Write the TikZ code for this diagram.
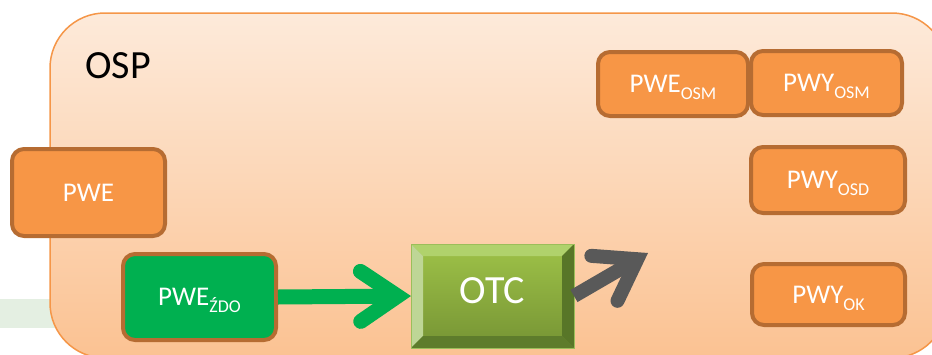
\documentclass[tikz,border=0pt]{standalone}
\usepackage{fontspec}
\setmainfont{Carlito}
\usetikzlibrary{arrows.meta,calc}

\definecolor{boxfill}{RGB}{247,150,70}
\definecolor{boxedge}{RGB}{182,108,50}
\definecolor{zdogreen}{RGB}{0,176,80}
\definecolor{ospedge}{RGB}{245,150,72}
\definecolor{osptop}{RGB}{253,234,218}
\definecolor{ospbottom}{RGB}{251,194,146}
\definecolor{bandgreen}{RGB}{228,239,226}
\definecolor{arrowgrey}{RGB}{89,89,89}
\definecolor{otcedge}{RGB}{155,190,90}
\definecolor{otctop}{RGB}{158,194,72}
\definecolor{otcbottom}{RGB}{118,148,52}
\definecolor{bevtop}{RGB}{176,210,108}
\definecolor{bevleft}{RGB}{190,214,150}
\definecolor{bevright}{RGB}{88,118,40}
\definecolor{bevbottom}{RGB}{94,124,44}

\newcommand{\lo}[1]{\smash{\raisebox{-7pt}{\fontsize{18}{18}\selectfont #1}}}

\tikzset{
    osp/.style={top color=osptop, bottom color=ospbottom, draw=ospedge,
        line width=1.5pt, rounded corners=55pt},
    box/.style={draw=boxedge, fill=boxfill, line width=4pt, rounded corners=12pt,
        text=white, font=\fontsize{27}{27}\selectfont, inner sep=0pt},
    greenarrow/.style={draw=zdogreen, line width=15pt,
        -{Straight Barb[length=37pt, width=50pt, line cap=round, line join=miter]}},
    greyarrow/.style={draw=arrowgrey, line width=14pt,
        -{Straight Barb[length=38pt, width=52pt, line cap=round, line join=miter]}},
}

\begin{document}
\begin{tikzpicture}[x=1pt, y=-1pt]
    \useasboundingbox (0,0) rectangle (932,354);
    \clip (0,0) rectangle (932,354);

    \fill[bandgreen] (0,299) rectangle (60,328);
    \draw[osp] (50,13) rectangle (947,358);
    \node[anchor=base west, inner sep=0pt, font=\fontsize{40}{40}\selectfont]
        (osplbl) at (85,78) {OSP};

    \node[box, minimum width=153pt, minimum height=87pt] (pwe) at (88.5,192.5) {PWE};
    \node[box, fill=zdogreen, minimum width=153pt, minimum height=86pt]
        (zdo) at (199.5,297) {PWE\lo{ŹDO}};
    \node[box, minimum width=150pt, minimum height=64pt] (pweosm) at (673,84) {PWE\lo{OSM}};
    \node[box, minimum width=151pt, minimum height=64pt] (pwyosm) at (826.5,83) {PWY\lo{OSM}};
    \node[box, minimum width=154pt, minimum height=66pt] (pwyosd) at (828,180) {PWY\lo{OSD}};
    \node[box, minimum width=153pt, minimum height=61pt] (pwyok) at (828.5,294.5) {PWY\lo{OK}};

    % bevelled OTC block
    \node[draw=otcedge, line width=1pt, top color=otctop, bottom color=otcbottom,
        minimum width=162pt, minimum height=103pt, inner sep=0pt, text depth=10pt,
        text=white, font=\fontsize{40}{40}\selectfont] (otc) at (492.5,296) {OTC};
    \coordinate (inw) at ($(otc.north west)+(12,12)$);
    \coordinate (ine) at ($(otc.north east)+(-12,12)$);
    \coordinate (ise) at ($(otc.south east)+(-12,-12)$);
    \coordinate (isw) at ($(otc.south west)+(12,-12)$);
    \fill[bevtop] (otc.north west) -- (otc.north east) -- (ine) -- (inw) -- cycle;
    \fill[bevleft] (otc.north west) -- (inw) -- (isw) -- (otc.south west) -- cycle;
    \fill[bevright] (otc.north east) -- (otc.south east) -- (ise) -- (ine) -- cycle;
    \fill[bevbottom] (otc.south west) -- (isw) -- (ise) -- (otc.south east) -- cycle;
    \draw[otcedge, line width=1pt] (otc.north west) rectangle (otc.south east);

    % arrows
    \coordinate (gtip) at (648,253);
    \draw[greenarrow] (zdo.east) -- (otc.west);
    \draw[greyarrow] (otc.east) -- (gtip);
\end{tikzpicture}
\end{document}
